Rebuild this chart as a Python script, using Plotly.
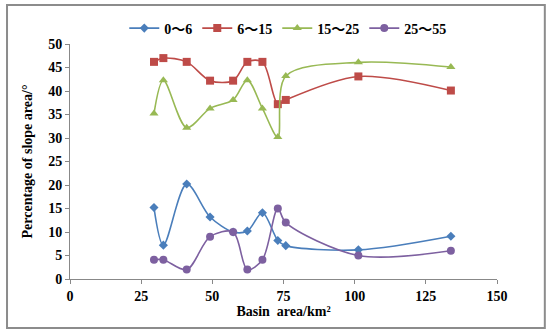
import plotly.graph_objects as go

basin_area = [29.5, 32.8, 41.0, 49.2, 57.3, 62.3, 67.6, 73.0, 75.8, 101.3, 133.8]
s_0_6 = [15.2, 7.2, 20.2, 13.2, 10.0, 10.2, 14.1, 8.2, 7.1, 6.2, 9.1]
s_6_15 = [46.2, 47.0, 46.2, 42.2, 42.2, 46.2, 46.2, 37.2, 38.1, 43.1, 40.1]
s_15_25 = [35.2, 42.3, 32.2, 36.3, 38.1, 42.3, 36.3, 30.2, 43.2, 46.1, 45.1]
s_25_55 = [4.1, 4.1, 2.0, 9.0, 10.0, 2.0, 4.1, 15.0, 12.0, 5.0, 6.0]
names = ["0～6", "6～15", "15～25", "25～55"]
x_ticks = [0, 25, 50, 75, 100, 125, 150]
y_ticks = [0, 5, 10, 15, 20, 25, 30, 35, 40, 45, 50]

series = [s_0_6, s_6_15, s_15_25, s_25_55]
colors = ["#4A7EBB", "#BE4B48", "#98B954", "#7D60A0"]
symbols = ["diamond", "square", "triangle-up", "circle"]
sizes = [7, 8, 8, 8]

font_family = "Liberation Serif, Times New Roman, serif"
cjk = "Noto Sans CJK SC"

def legend_label(n):
    a, b = n.split("～")
    return f'<b>{a}<span style="font-family:{cjk}">～</span>{b}</b>'

fig = go.Figure()
for name, ys, c, sym, sz in zip(names, series, colors, symbols, sizes):
    fig.add_trace(go.Scatter(
        x=basin_area, y=ys, name=legend_label(name), mode="lines+markers",
        line=dict(color=c, width=1.6, shape="spline", smoothing=0.9),
        marker=dict(color=c, symbol=sym, size=sz),
    ))

tf = dict(family=font_family, size=14, color="black")
axis_common = dict(
    showgrid=False, zeroline=False, showline=True, linecolor="#888888", linewidth=1,
    ticks="outside", ticklen=4, tickcolor="#888888",
    tickfont=tf,
)

fig.update_layout(
    width=550, height=333,
    margin=dict(l=70, r=53, t=44, b=54),
    paper_bgcolor="white", plot_bgcolor="white",
    font=dict(family=font_family, color="black"),
    showlegend=True,
    legend=dict(orientation="h", x=0.51, y=1.066, xanchor="center", yanchor="middle",
                font=dict(family=font_family, size=14, color="black"),
                bgcolor="rgba(0,0,0,0)", itemwidth=30, tracegroupgap=0),
    xaxis=dict(range=[0, 150], tickvals=x_ticks, ticktext=[f"<b>{v}</b>" for v in x_ticks],
               title=dict(text="<b>Basin  area/km²</b>", standoff=1,
                          font=dict(family=font_family, size=14, color="black")),
               **axis_common),
    yaxis=dict(range=[0, 50], tickvals=y_ticks, ticktext=[f"<b>{v}</b>" for v in y_ticks],
               title=dict(text="<b>Percentage of slope area/°</b>", standoff=12,
                          font=dict(family=font_family, size=14, color="black")),
               **axis_common),
    shapes=[dict(type="rect", xref="paper", yref="paper",
                 x0=-0.1475, x1=1.112, y0=-0.2085, y1=1.166,
                 line=dict(color="#8C8C8C", width=2), fillcolor="rgba(0,0,0,0)", layer="above")],
)

fig.write_html("out.html", config={"displayModeBar": False},
               post_script="document.body.style.margin='0';")
